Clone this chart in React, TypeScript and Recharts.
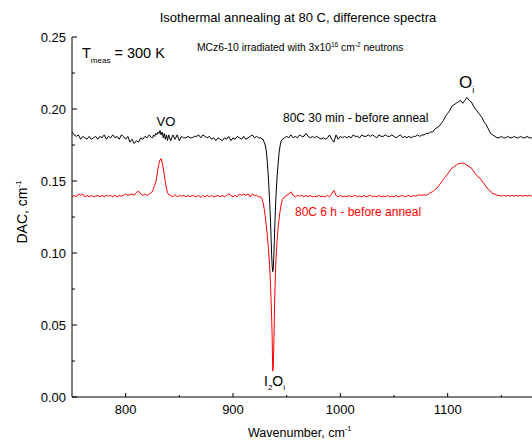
import { LineChart, Line, XAxis, YAxis } from "recharts";

// ── Data ─────────────────────────────────────────────────────────────────────

const WAVENUMBER = [
  750, 752, 754, 756, 758, 760, 762, 764, 766, 768,
  770, 772, 774, 776, 778, 780, 782, 784, 786, 788,
  790, 792, 794, 796, 798, 800, 802, 804, 806, 808,
  810, 812, 814, 816, 818, 820, 822, 824,
  825, 826, 827, 828, 829, 830, 831, 832, 833, 834,
  835, 836, 837, 838, 839, 840,
  842, 844, 846, 848, 850, 852, 854, 856, 858, 860,
  862, 864, 866, 868, 870, 872, 874, 876, 878, 880,
  882, 884, 886, 888, 890, 892, 894, 896, 898, 900,
  902, 904, 906, 908, 910, 912, 914, 916, 918, 920,
  922, 924,
  925, 926, 927, 928, 929, 930, 931, 932, 933, 934,
  934.5, 935, 935.5, 936, 936.5, 937, 937.5, 938, 938.5, 939, 939.5,
  940, 941, 942, 943, 944, 945, 946,
  948, 950, 952, 954, 956, 958, 960, 962, 964, 966,
  968, 970, 972, 974, 976, 978, 980, 982, 984, 986,
  988, 990, 992, 994, 996, 998, 1000, 1002, 1004, 1006,
  1008, 1010, 1012, 1014, 1016, 1018, 1020, 1022, 1024, 1026,
  1028, 1030, 1032, 1034, 1036, 1038, 1040, 1042, 1044, 1046,
  1048, 1050, 1052, 1054, 1056, 1058, 1060, 1062, 1064, 1066,
  1068, 1070, 1072, 1074, 1076, 1078, 1080, 1082, 1084, 1086,
  1088, 1090, 1092, 1094, 1096, 1098, 1100, 1102, 1104, 1106,
  1108, 1110, 1112, 1114, 1116, 1118, 1120, 1122, 1124, 1126,
  1128, 1130, 1132, 1134, 1136, 1138, 1140, 1142, 1144, 1146,
  1148, 1150, 1152, 1154, 1156, 1158, 1160, 1162, 1164, 1166,
  1168, 1170, 1172, 1174, 1176, 1178, 1180,
];

// 80C 30 min - before anneal (black)
const DAC_30MIN = [
  0.184, 0.182, 0.181, 0.182, 0.179, 0.181, 0.180, 0.179, 0.181, 0.179,
  0.180, 0.181, 0.179, 0.181, 0.180, 0.182, 0.179, 0.181, 0.180, 0.182,
  0.180, 0.181, 0.179, 0.182, 0.181, 0.179, 0.181, 0.177, 0.179, 0.176,
  0.178, 0.177, 0.180, 0.179, 0.181, 0.180, 0.182, 0.180,
  0.180, 0.182, 0.181, 0.183, 0.182, 0.184, 0.183, 0.185, 0.182, 0.184,
  0.180, 0.183, 0.179, 0.182, 0.178, 0.182,
  0.178, 0.182, 0.179, 0.182, 0.178, 0.181, 0.180, 0.180, 0.181, 0.180,
  0.180, 0.181, 0.181, 0.182, 0.180, 0.182, 0.181, 0.180, 0.181, 0.179,
  0.180, 0.178, 0.180, 0.179, 0.178, 0.180, 0.179, 0.181, 0.178, 0.180,
  0.179, 0.181, 0.180, 0.179, 0.181, 0.179, 0.180, 0.181, 0.182, 0.180,
  0.181, 0.180,
  0.180, 0.180, 0.179, 0.179, 0.177, 0.175, 0.171, 0.163, 0.152, 0.138,
  0.130, 0.121, 0.110, 0.099, 0.091, 0.087, 0.089, 0.097, 0.108, 0.120, 0.130,
  0.139, 0.152, 0.162, 0.170, 0.175, 0.178, 0.179,
  0.180, 0.181, 0.180, 0.182, 0.180, 0.181, 0.180, 0.182, 0.181, 0.181,
  0.183, 0.181, 0.180, 0.181, 0.180, 0.181, 0.180, 0.179, 0.180, 0.179,
  0.180, 0.182, 0.179, 0.177, 0.182, 0.179, 0.181, 0.180, 0.181, 0.180,
  0.181, 0.180, 0.182, 0.181, 0.181, 0.180, 0.182, 0.181, 0.181, 0.182,
  0.181, 0.182, 0.181, 0.180, 0.182, 0.181, 0.181, 0.182, 0.181, 0.181,
  0.182, 0.181, 0.180, 0.181, 0.182, 0.180, 0.181, 0.180, 0.181, 0.180,
  0.181, 0.181, 0.182, 0.181, 0.182, 0.182, 0.183, 0.183, 0.184, 0.184,
  0.186, 0.187, 0.188, 0.190, 0.192, 0.195, 0.197, 0.199, 0.202, 0.203,
  0.204, 0.205, 0.206, 0.204, 0.206, 0.208, 0.206, 0.205, 0.202, 0.200,
  0.198, 0.196, 0.194, 0.191, 0.189, 0.186, 0.183, 0.182, 0.181, 0.180,
  0.180, 0.181, 0.180, 0.180, 0.181, 0.180, 0.180, 0.181, 0.180, 0.180,
  0.181, 0.180, 0.180, 0.181, 0.180, 0.180, 0.180,
];

// 80C 6 h - before anneal (red)
const DAC_6H = [
  0.139, 0.140, 0.139, 0.141, 0.140, 0.141, 0.139, 0.140, 0.139, 0.140,
  0.139, 0.1395, 0.140, 0.139, 0.140, 0.139, 0.140, 0.1395, 0.140, 0.139,
  0.140, 0.139, 0.140, 0.1395, 0.140, 0.141, 0.140, 0.1405, 0.141, 0.140,
  0.142, 0.143, 0.141, 0.140, 0.141, 0.140, 0.141, 0.142,
  0.143, 0.145, 0.147, 0.149, 0.153, 0.158, 0.162, 0.1645, 0.1655, 0.163,
  0.159, 0.154, 0.149, 0.145, 0.142, 0.1405,
  0.140, 0.139, 0.1405, 0.139, 0.140, 0.1395, 0.140, 0.139, 0.140, 0.139,
  0.140, 0.1395, 0.139, 0.140, 0.1385, 0.140, 0.139, 0.140, 0.139, 0.140,
  0.139, 0.1395, 0.140, 0.139, 0.140, 0.139, 0.140, 0.141, 0.140, 0.139,
  0.140, 0.139, 0.141, 0.140, 0.141, 0.140, 0.141, 0.139, 0.141, 0.140,
  0.140, 0.139,
  0.139, 0.139, 0.1375, 0.135, 0.131, 0.126, 0.119, 0.112, 0.103, 0.092,
  0.086, 0.077, 0.067, 0.056, 0.041, 0.018, 0.020, 0.035, 0.054, 0.072, 0.085,
  0.095, 0.108, 0.117, 0.124, 0.130, 0.134, 0.137,
  0.139, 0.140, 0.141, 0.1425, 0.140, 0.139, 0.140, 0.1395, 0.140, 0.139,
  0.140, 0.139, 0.140, 0.139, 0.1395, 0.139, 0.140, 0.139, 0.1395, 0.139,
  0.140, 0.139, 0.141, 0.1435, 0.140, 0.139, 0.140, 0.139, 0.1395, 0.139,
  0.140, 0.139, 0.1395, 0.140, 0.139, 0.1395, 0.139, 0.140, 0.139, 0.1395,
  0.140, 0.139, 0.1395, 0.139, 0.140, 0.139, 0.1395, 0.139, 0.140, 0.139,
  0.1395, 0.139, 0.140, 0.139, 0.1395, 0.140, 0.139, 0.1395, 0.140, 0.139,
  0.140, 0.1395, 0.140, 0.1405, 0.140, 0.1405, 0.140, 0.141, 0.142, 0.1425,
  0.144, 0.145, 0.147, 0.149, 0.151, 0.153, 0.155, 0.157, 0.159, 0.160,
  0.161, 0.162, 0.1622, 0.1625, 0.162, 0.161, 0.160, 0.159, 0.157, 0.155,
  0.153, 0.152, 0.150, 0.148, 0.146, 0.144, 0.143, 0.141, 0.141, 0.140,
  0.140, 0.1395, 0.140, 0.1395, 0.140, 0.1395, 0.140, 0.1395, 0.140, 0.1395,
  0.140, 0.1395, 0.140, 0.1395, 0.140, 0.1395, 0.140,
];

const X_TICKS = [800, 850, 900, 950, 1000, 1050, 1100, 1150];
const Y_TICKS = [0, 0.025, 0.05, 0.075, 0.1, 0.125, 0.15, 0.175, 0.2, 0.225, 0.25];

const rows = WAVENUMBER.map((wn, i) => ({ wn, b: DAC_30MIN[i], r: DAC_6H[i] }));

const FONT = "'Liberation Sans', Arial, sans-serif";

// ── Ticks (drawn inward, like the original plot) ─────────────────────────────

function BottomTick({ x, y, payload }: any) {
  const v = payload.value as number;
  const major = v % 100 === 0;
  return (
    <g>
      <line x1={x} y1={y} x2={x} y2={y - (major ? 4 : 2)} stroke="#000" />
      {major && (
        <text x={x} y={y + 17} textAnchor="middle" fontSize={13} fill="#000" fontFamily={FONT}>
          {v}
        </text>
      )}
    </g>
  );
}

function TopTick({ x, y, payload }: any) {
  const major = (payload.value as number) % 100 === 0;
  return <line x1={x} y1={y} x2={x} y2={y + (major ? 4 : 2)} stroke="#000" />;
}

function LeftTick({ x, y, payload }: any) {
  const v = payload.value as number;
  const major = Math.round(v * 1000) % 50 === 0;
  return (
    <g>
      <line x1={x} y1={y} x2={x + (major ? 5 : 3)} y2={y} stroke="#000" />
      {major && (
        <text x={x - 6} y={y} dy="0.36em" textAnchor="end" fontSize={13} fill="#000" fontFamily={FONT}>
          {v.toFixed(2)}
        </text>
      )}
    </g>
  );
}

// ── Component ─────────────────────────────────────────────────────────────────

export default function App() {
  return (
    <div style={{ position: "absolute", left: 0, top: 0, width: 532, height: 444, overflow: "hidden", background: "#fff", fontFamily: FONT }}>
      <LineChart width={560} height={444} data={rows} margin={{ top: 37, right: 5, bottom: 0, left: 0 }}>
        <XAxis
          dataKey="wn"
          type="number"
          domain={[750, 1200]}
          ticks={X_TICKS}
          interval={0}
          height={47}
          tickSize={0}
          tickMargin={0}
          tickLine={false}
          axisLine={{ stroke: "#000" }}
          tick={<BottomTick />}
        />
        <XAxis
          xAxisId="top"
          orientation="top"
          dataKey="wn"
          type="number"
          domain={[750, 1200]}
          ticks={X_TICKS}
          interval={0}
          height={0}
          tickSize={0}
          tickMargin={0}
          tickLine={false}
          axisLine={{ stroke: "#000" }}
          tick={<TopTick />}
        />
        <YAxis
          type="number"
          domain={[0, 0.25]}
          ticks={Y_TICKS}
          interval={0}
          width={72}
          tickSize={0}
          tickMargin={0}
          tickLine={false}
          axisLine={{ stroke: "#000" }}
          tick={<LeftTick />}
        />
        <Line dataKey="b" type="linear" stroke="#000000" strokeWidth={1} dot={false} isAnimationActive={false} />
        <Line dataKey="r" type="linear" stroke="#ff0000" strokeWidth={1} dot={false} isAnimationActive={false} />
      </LineChart>

      <svg width={532} height={444} style={{ position: "absolute", left: 0, top: 0, pointerEvents: "none" }} fontFamily={FONT}>
        <text x={298} y={22} textAnchor="middle" fontSize={13} fill="#000">
          Isothermal annealing at 80 C, difference spectra
        </text>

        <text x={82} y={58} fontSize={14.5} fill="#000">
          T<tspan fontSize={8} dy={5}>meas</tspan><tspan dy={-5}> = 300 K</tspan>
        </text>

        <text x={197} y={51} fontSize={10.3} fill="#000">
          MCz6-10 irradiated with 3x10<tspan fontSize={6.5} dy={-4}>16</tspan>
          <tspan dy={4}> cm</tspan><tspan fontSize={6.5} dy={-4}>-2</tspan>
          <tspan dy={4}> neutrons</tspan>
        </text>

        <text x={166} y={126} textAnchor="middle" fontSize={13} fill="#000">VO</text>

        <text x={283} y={122} fontSize={12} fill="#000">80C 30 min - before anneal</text>
        <text x={295} y={216} fontSize={12} fill="#ff0000">80C 6 h - before anneal</text>

        <text x={459} y={88} fontSize={17} fill="#000">
          O<tspan fontSize={9} dy={5}>i</tspan>
        </text>

        <text x={264} y={386} fontSize={14} fill="#000">
          I<tspan fontSize={8} dy={4}>2</tspan><tspan dy={-4}>O</tspan><tspan fontSize={8} dy={4}>i</tspan>
        </text>

        <text x={248} y={437} fontSize={12.5} fill="#000">
          Wavenumber, cm<tspan fontSize={7.5} dy={-6}>-1</tspan>
        </text>

        <text x={0} y={0} transform="translate(27 212) rotate(-90)" textAnchor="middle" fontSize={14} fill="#000">
          DAC, cm<tspan fontSize={8} dy={-6}>-1</tspan>
        </text>
      </svg>
    </div>
  );
}
